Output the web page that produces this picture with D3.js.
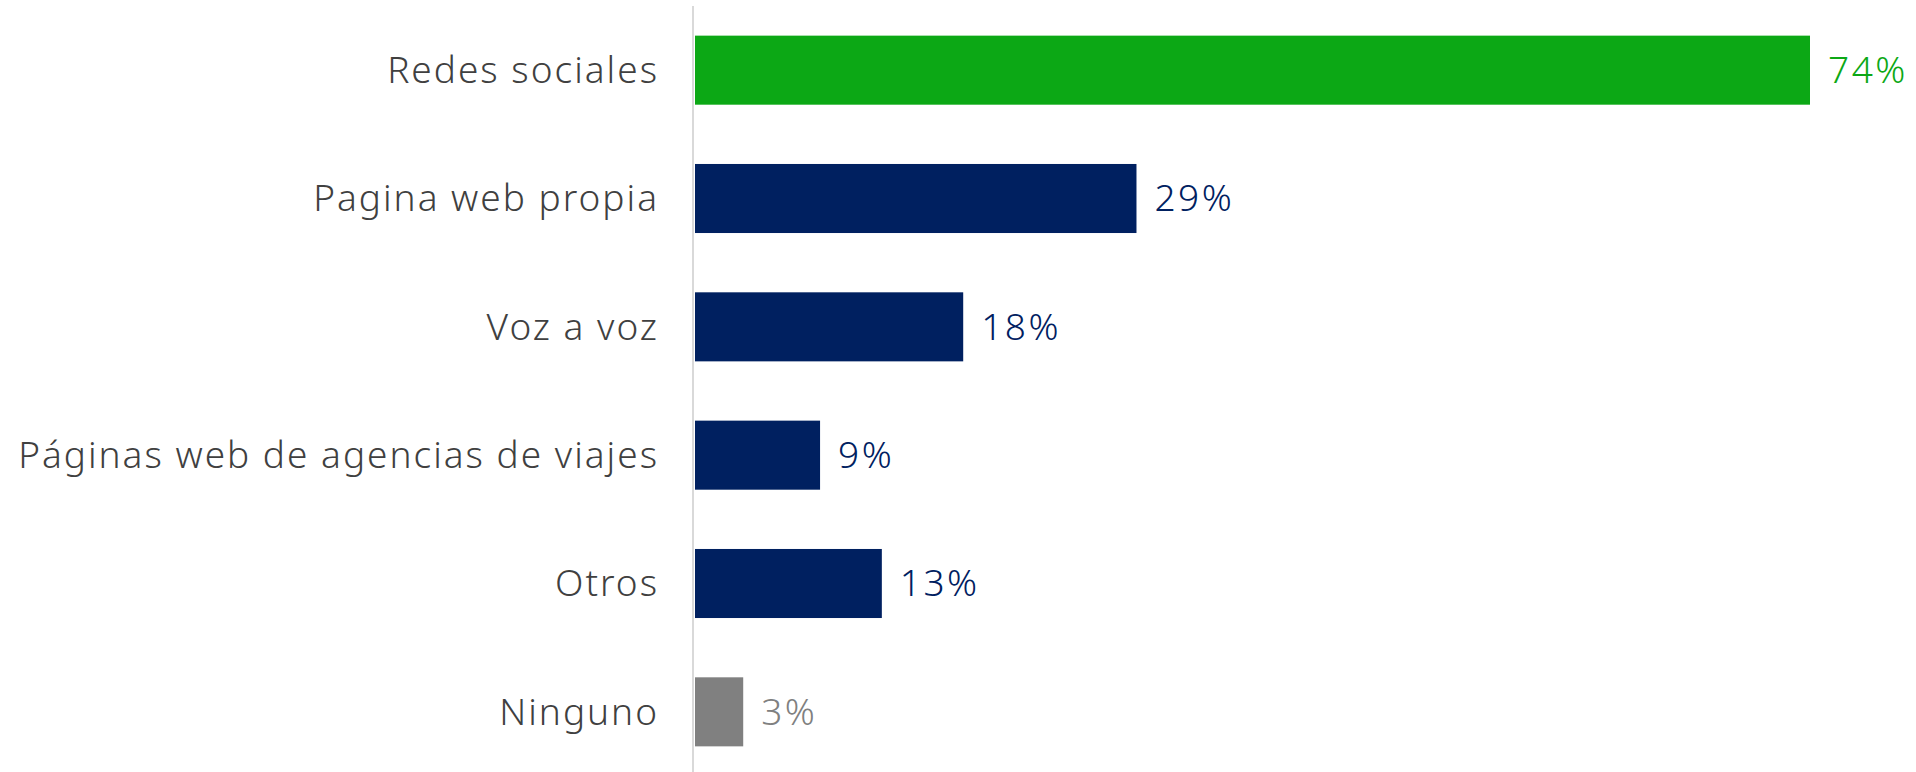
<!DOCTYPE html>
<html>
  <head>
    <meta charset="utf-8">
    <title></title>
    <script src="https://d3js.org/d3.v7.min.js"></script>
  </head>

  <style>
    body {
      margin: 0;
      background-color: #ffffff;
    }

    .cat_label {
      font-family: 'Noto Sans', sans-serif;
      font-weight: 300;
      font-size: 37px;
      letter-spacing: 2px;
      fill: #404040;
      text-anchor: end;
    }

    .value_label {
      font-family: 'Noto Sans', sans-serif;
      font-weight: 300;
      font-size: 37px;
      letter-spacing: 2.5px;
    }
  </style>

  <body>
    <div id="chart"></div>
    <script>

    // Categories, top to bottom
    var categories = ['Redes sociales', 'Pagina web propia', 'Voz a voz',
      'Páginas web de agencias de viajes', 'Otros', 'Ninguno'];
    // Bar lengths (percent)
    var values = [74, 29.3, 17.8, 8.3, 12.4, 3.2];
    // Labels printed at the end of each bar
    var valueLabels = ['74%', '29%', '18%', '9%', '13%', '3%'];
    var barColors = ['#0ca815', '#002060', '#002060', '#002060', '#002060', '#808080'];

    var width = 1916;
    var height = 772;
    var margin = { top: 6, left: 695 };

    var svg = d3.select('#chart').append('svg')
      .attr('width', width)
      .attr('height', height);

    var xScale = d3.scaleLinear()
      .domain([0, 74])
      .range([margin.left, 1810]);

    var yScale = d3.scaleBand()
      .domain(categories)
      .range([margin.top, margin.top + 770])
      .paddingInner(.462)
      .paddingOuter(.231);

    // Bars
    svg.append('g')
      .selectAll('rect')
      .data(values)
      .enter().append('rect')
        .attr('x', xScale(0))
        .attr('y', function(d, i) { return yScale(categories[i]); })
        .attr('width', function(d) { return xScale(d) - xScale(0); })
        .attr('height', yScale.bandwidth())
        .attr('fill', function(d, i) { return barColors[i]; });

    // Vertical axis line
    svg.append('line')
      .attr('x1', xScale(0) - 2)
      .attr('x2', xScale(0) - 2)
      .attr('y1', margin.top)
      .attr('y2', height)
      .style('stroke', '#d9d9d9')
      .style('stroke-width', 2);

    // Category labels (letter-spacing leaves a trailing gap, so nudge right)
    svg.append('g')
      .selectAll('text')
      .data(categories)
      .enter().append('text')
        .attr('class', 'cat_label')
        .attr('x', xScale(0) - 36)
        .attr('y', function(d) { return yScale(d) + yScale.bandwidth() / 2; })
        .attr('dy', '.35em')
        .text(function(d) { return d; });

    // Value labels
    svg.append('g')
      .selectAll('text')
      .data(values)
      .enter().append('text')
        .attr('class', 'value_label')
        .attr('x', function(d) { return xScale(d) + 18; })
        .attr('y', function(d, i) { return yScale(categories[i]) + yScale.bandwidth() / 2; })
        .attr('dy', '.35em')
        .style('fill', function(d, i) { return barColors[i]; })
        .text(function(d, i) { return valueLabels[i]; });

    </script>
  </body>
</html>
